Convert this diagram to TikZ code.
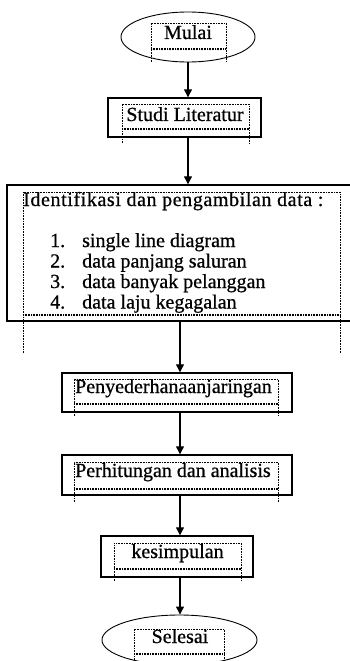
\documentclass[tikz,border=0pt]{standalone}
\usepackage{fontspec}
\setmainfont{Liberation Serif}[FakeBold=0.7]
\usetikzlibrary{shapes.geometric,arrows.meta}
\newcommand\dotframe[5]{%
  \draw[dfr] (#1,#5) -- (#1,#2) -- (#3,#2) -- (#3,#5);
  \draw[dfr] (#1,#4) -- (#3,#4);
  \draw[dfr] (#1,#4+1.2) -- (#3,#4+1.2);
}
\begin{document}
\begin{tikzpicture}[x=1bp,y=-1bp,
  term/.style={draw,ellipse,line width=0.9bp,inner sep=0pt},
  proc/.style={draw,rectangle,line width=1.4bp,inner sep=0pt},
  dfr/.style={line width=0.7bp,dash pattern=on 0.8bp off 0.8bp},
  arr/.style={line width=1.2bp,-{Triangle[length=8bp,width=8bp]}},
  lbl/.style={font=\fontsize{20bp}{24bp}\selectfont,inner sep=0pt}]
\useasboundingbox (0,0) rectangle (349,661);
\coordinate (ax) at (180,0);
% shapes
\node[term,minimum width=134bp,minimum height=50bp] (mulai) at (188,37) {};
\node[proc,minimum width=153bp,minimum height=39bp] (studi) at (184.5,117.5) {};
\node[proc,minimum width=353bp,minimum height=136bp] (ident) at (183.5,253) {};
\node[proc,minimum width=230bp,minimum height=39bp] (peny) at (177,392.5) {};
\node[proc,minimum width=230bp,minimum height=40bp] (hitung) at (177,475) {};
\node[proc,minimum width=152bp,minimum height=41bp] (simpul) at (177,556.5) {};
\node[term,minimum width=155bp,minimum height=50bp] (selesai) at (179.5,640) {};
% dotted text frames
\dotframe{151}{23}{226}{48}{62}
\dotframe{122}{104}{249}{128}{143}
\dotframe{23}{192}{340}{314}{353}
\dotframe{74}{379}{278}{403}{416}
\dotframe{74}{462}{278}{488}{502}
\dotframe{114}{543}{241}{568}{581}
\dotframe{134}{629}{224}{653}{668}
% texts
\node[lbl,anchor=base] (tmulai) at (188,39) {Mulai};
\node[lbl,anchor=base] (tstudi) at (185,121) {Studi Literatur};
\node[lbl,anchor=base west] (tident) at (23,206) {\addfontfeature{LetterSpace=3}Identifikasi dan pengambilan data :};
\node[lbl,anchor=base west] (n1) at (50,247) {1.};
\node[lbl,anchor=base west] (i1) at (82,247) {single line diagram};
\node[lbl,anchor=base west] (n2) at (50,267.5) {2.};
\node[lbl,anchor=base west] (i2) at (82,267.5) {data panjang saluran};
\node[lbl,anchor=base west] (n3) at (50,288) {3.};
\node[lbl,anchor=base west] (i3) at (82,288) {data banyak pelanggan};
\node[lbl,anchor=base west] (n4) at (50,308.5) {4.};
\node[lbl,anchor=base west] (i4) at (82,308.5) {data laju kegagalan};
\node[lbl,anchor=base west] (tpeny) at (75,393) {Penyederhanaanjaringan};
\node[lbl,anchor=base west] (thitung) at (75,477) {Perhitungan dan analisis};
\node[lbl,anchor=base] (tsimpul) at (177.5,558) {kesimpulan};
\node[lbl,anchor=base] (tselesai) at (180,643) {Selesai};
% connectors
\draw[arr] (mulai.south) -- (mulai.south |- studi.north);
\draw[arr] (mulai.south |- studi.south) -- (mulai.south |- ident.north);
\draw[arr] (ax |- ident.south) -- (ax |- peny.north);
\draw[arr] (ax |- peny.south) -- (ax |- hitung.north);
\draw[arr] (ax |- hitung.south) -- (ax |- simpul.north);
\draw[arr] (ax |- simpul.south) -- (ax |- selesai.north);
\end{tikzpicture}
\end{document}
